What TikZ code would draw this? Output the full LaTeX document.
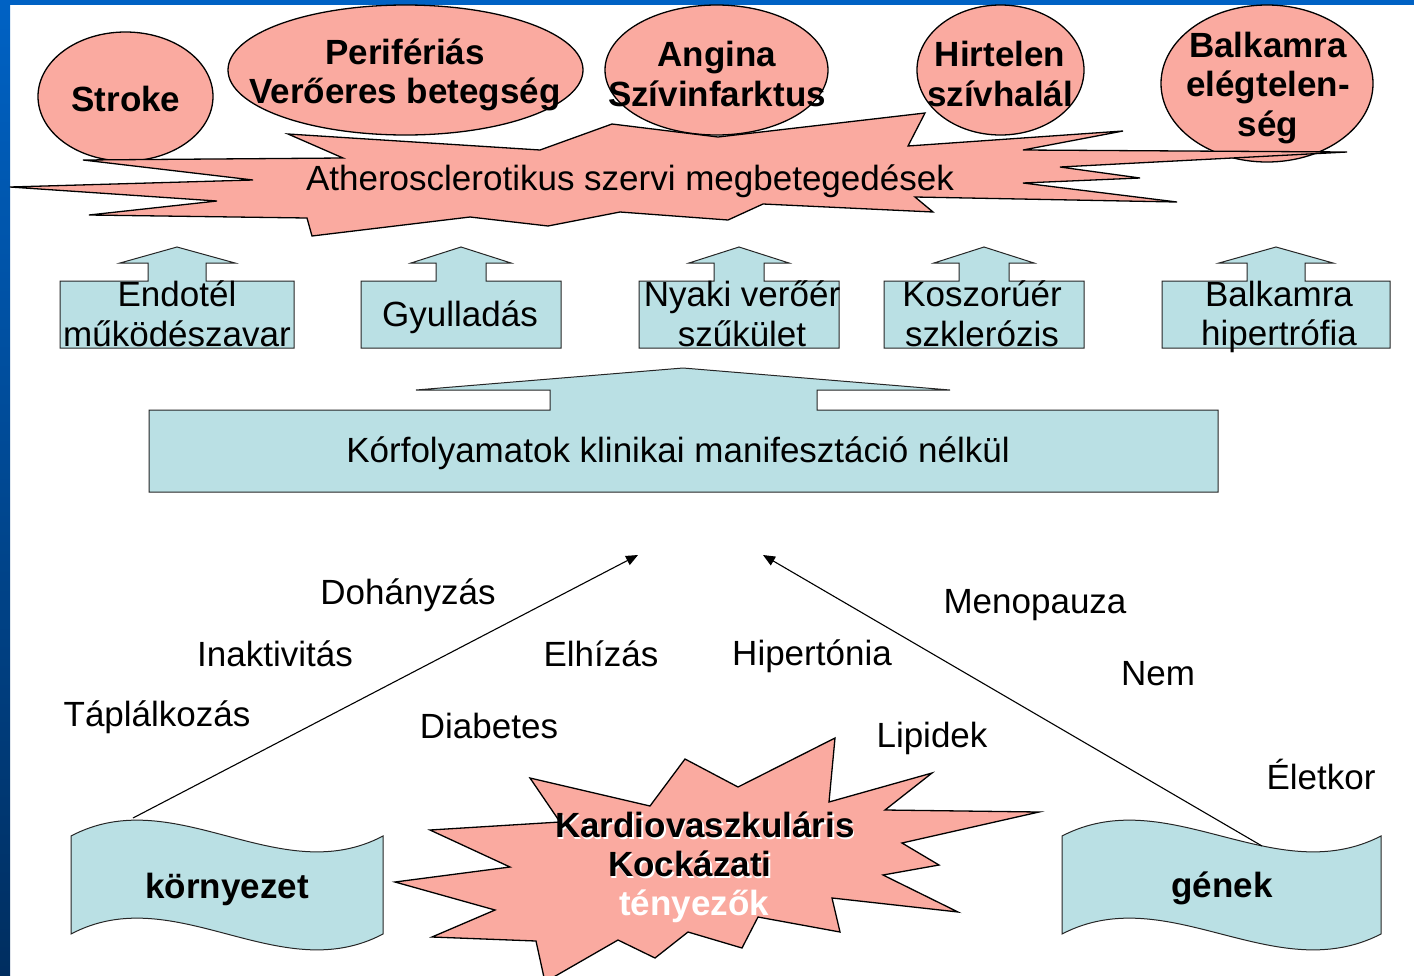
\documentclass[tikz,border=0pt]{standalone}
\usepackage{fontspec}
\setmainfont{Liberation Sans}
\usetikzlibrary{arrows.meta}
\definecolor{salmon}{RGB}{250,170,160}
\definecolor{paleblue}{RGB}{186,224,228}
\definecolor{bluedark}{RGB}{0,46,96}
\definecolor{bluetop}{RGB}{0,98,196}
\tikzset{
  every node/.style={inner sep=0pt},
  reg/.style={font=\fontsize{35}{39.5}\selectfont, align=center},
  bld/.style={font=\fontsize{35}{39.5}\selectfont\bfseries, align=center},
  pinkshape/.style={fill=salmon, draw=black, line width=1.3pt, line join=miter},
  cyanshape/.style={fill=paleblue, draw=black!85, line width=1pt},
  link/.style={draw=black, line width=1.1pt, -{Triangle[length=12pt,width=10pt]}},
}
\begin{document}
\begin{tikzpicture}[x=1pt,y=-1pt]
\useasboundingbox (0,0) rectangle (1414,975);
\fill[white] (0,0) rectangle (1414,975);
% blue frame
\shade[top color=bluetop, bottom color=bluedark] (0,0) rectangle (10,975);
\fill[bluetop] (0,0) rectangle (1414,5);

% top ellipses
\draw[pinkshape] (125.5,96.5) ellipse [x radius=87.5, y radius=64.5];
\draw[pinkshape] (405.5,70) ellipse [x radius=177.5, y radius=65];
\draw[pinkshape] (716.5,70) ellipse [x radius=111.5, y radius=65];
\draw[pinkshape] (1000.5,70) ellipse [x radius=83.5, y radius=65];
\draw[pinkshape] (1267,83.5) ellipse [x radius=106, y radius=78.5];

% explosion: organ diseases
\draw[pinkshape] (10,187) -- (253,180) -- (83,160) -- (343,158) -- (288,134) -- (540,150)
  -- (612,124) -- (718,137) -- (925,113) -- (908,146) -- (1123,131) -- (1023,150)
  -- (1347,152) -- (1060,167) -- (1140,178) -- (1023,183) -- (1177,202) -- (915,197)
  -- (933,212) -- (763,204) -- (728,220) -- (620,212) -- (548,226) -- (470,217)
  -- (312,236) -- (307,218) -- (89,215) -- (217,201) -- cycle;

\node[bld] (stroke) at (126,99) {Stroke};
\node[bld] (perif) at (405,75) {Perifériás\\Verőeres betegség};
\node[bld] (angina) at (717,74) {Angina\\Szívinfarktus};
\node[bld] (hirtelen) at (1000,74) {Hirtelen\\szívhalál};
\node[bld] (balelegt) at (1268,88) {Balkamra\\elégtelen-\\ség};
\node[reg] (ather) at (630,181) {Atherosclerotikus szervi megbetegedések};

% small up-arrow callouts
\draw[cyanshape] (60,281) -- (148,281) -- (148,263) -- (120,263) -- (177,247) -- (235,263)
  -- (206,263) -- (206,281) -- (294,281) -- (294,348) -- (60,348) -- cycle;
\foreach \c in {461,739,984}{
  \draw[cyanshape] (\c-100,281) -- (\c-25,281) -- (\c-25,263) -- (\c-50,263) -- (\c,247)
    -- (\c+50,263) -- (\c+25,263) -- (\c+25,281) -- (\c+100,281) -- (\c+100,348)
    -- (\c-100,348) -- cycle;
}
\draw[cyanshape] (1162,281) -- (1247,281) -- (1247,263) -- (1219,263) -- (1276,247) -- (1333,263)
  -- (1305,263) -- (1305,281) -- (1390,281) -- (1390,348) -- (1162,348) -- cycle;

\node[reg] (endotel) at (177,314) {Endotél\\működészavar};
\node[reg] (gyull) at (460,317) {Gyulladás};
\node[reg] (nyaki) at (742,314) {Nyaki verőér\\szűkület};
\node[reg] (koszor) at (982,314) {Koszorúér\\szklerózis};
\node[reg] (balhip) at (1279,317) {Balkamra\\hipertrófia};

% big callout
\draw[cyanshape] (149,410) -- (550,410) -- (550,390) -- (416,390) -- (683,368) -- (950,390)
  -- (817,390) -- (817,410) -- (1218,410) -- (1218,492) -- (149,492) -- cycle;
\node[reg] (korf) at (678,453) {Kórfolyamatok klinikai manifesztáció nélkül};

% waves
\draw[cyanshape] (71,836) .. controls (175,781) and (279,891) .. (383,836) -- (383,934)
  .. controls (279,989) and (175,879) .. (71,934) -- cycle;
\draw[cyanshape] (1062,836) .. controls (1168,781) and (1274,891) .. (1381,836) -- (1381,934)
  .. controls (1274,989) and (1168,879) .. (1062,934) -- cycle;
\node[bld] (korny) at (227,889) {környezet};
\node[bld] (genek) at (1222,888) {gének};

% risk factor star
\draw[pinkshape] (395,882) -- (510,867) -- (430,830) -- (560,822) -- (530,778) -- (650,806)
  -- (685,759) -- (738,787) -- (835,738) -- (829,802) -- (932,773) -- (885,810)
  -- (1039,812) -- (902,843) -- (939,865) -- (883,875) -- (958,912) -- (832,898)
  -- (840,932) -- (758,917) -- (742,948) -- (688,932) -- (655,958) -- (618,940)
  -- (545,982) -- (536,941) -- (432,937) -- (495,910) -- cycle;
\node[bld, text=white] at (706.5,826.5) {Kardiovaszkuláris};
\node[bld] (kardio) at (705,825) {Kardiovaszkuláris};
\node[bld, text=white] at (691.5,865.5) {Kockázati};
\node[bld] (kock) at (690,864) {Kockázati};
\node[bld, text=white] (teny) at (694,906) {tényezők};

% connectors
\coordinate (envtop) at (133,818);
\coordinate (envtip) at (638,555);
\coordinate (gentop) at (1262,846);
\coordinate (gentip) at (763,555);
\draw[link] (envtop) -- (envtip);
\draw[link] (gentop) -- (gentip);

% risk factor labels
\node[reg] (dohany) at (408,595) {Dohányzás};
\node[reg] (inakt) at (275,654) {Inaktivitás};
\node[reg] (taplal) at (157,717) {Táplálkozás};
\node[reg] (elhiz) at (601,654) {Elhízás};
\node[reg] (diab) at (489,726) {Diabetes};
\node[reg] (hipert) at (812,656) {Hipertónia};
\node[reg] (menop) at (1035,605) {Menopauza};
\node[reg] (nem) at (1158,674) {Nem};
\node[reg] (lipid) at (932,738) {Lipidek};
\node[reg] (eletk) at (1321,774) {Életkor};
\end{tikzpicture}
\end{document}
